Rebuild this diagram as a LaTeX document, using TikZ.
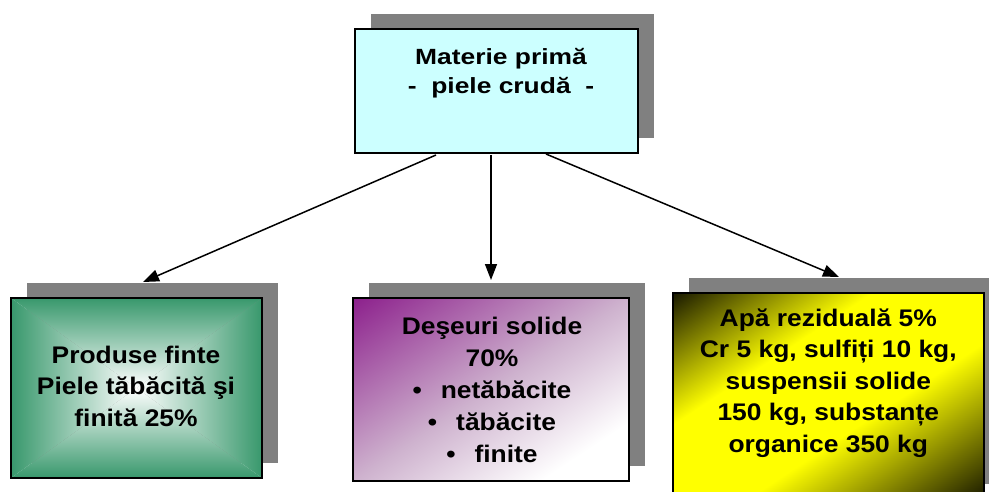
\documentclass[tikz,border=0pt]{standalone}
\usepackage{fontspec}
\setmainfont{Liberation Sans}
\newfontfamily\headfont[FakeStretch=1.2]{Liberation Sans}
\newfontfamily\bodyfont[FakeStretch=1.1]{Liberation Sans}
\usetikzlibrary{arrows.meta}

\definecolor{shadowgray}{RGB}{128,128,128}
\definecolor{paleCyan}{RGB}{204,255,255}
\definecolor{seaGreen}{RGB}{56,152,108}
\definecolor{deepPurple}{RGB}{140,32,140}
\definecolor{midLilac}{RGB}{206,178,206}
\definecolor{oliveBlack}{RGB}{24,24,0}

% corner-to-corner fades: 25bp is the top-left corner, 75bp the bottom-right one
\pgfdeclarehorizontalshading{purplefade}{100bp}{color(0bp)=(deepPurple); color(25bp)=(deepPurple); color(50bp)=(midLilac); color(67bp)=(white); color(100bp)=(white)}
\pgfdeclarehorizontalshading{yellowband}{100bp}{color(0bp)=(oliveBlack); color(25bp)=(oliveBlack); color(41bp)=(yellow); color(56bp)=(yellow); color(75bp)=(oliveBlack); color(100bp)=(oliveBlack)}

\tikzset{
  shadowbox/.style={rectangle, fill=shadowgray, draw=none, inner sep=0pt, outer sep=0pt},
  panel/.style={rectangle, draw=black, line width=1.5pt, inner sep=0pt, outer sep=0pt},
  frame/.style={draw=black, line width=1.5pt},
  headtext/.style={inner sep=0pt, align=center, font=\headfont\bfseries\fontsize{22}{29}\selectfont},
  bodytext/.style={inner sep=0pt, align=center, font=\bodyfont\bfseries\fontsize{24}{31.5}\selectfont},
  flow/.style={line width=1.5pt, -{Triangle[length=16pt,width=12pt]}},
  % rectangular glow: green rim fading to white in the middle
  greenglow/.style={path picture={
    \coordinate (gc) at (path picture bounding box.center);
    \shade[top color=seaGreen, bottom color=white]
      (path picture bounding box.north west) -- (path picture bounding box.north east) -- (gc) -- cycle;
    \shade[bottom color=seaGreen, top color=white]
      (path picture bounding box.south west) -- (path picture bounding box.south east) -- (gc) -- cycle;
    \shade[left color=seaGreen, right color=white]
      (path picture bounding box.north west) -- (path picture bounding box.south west) -- (gc) -- cycle;
    \shade[right color=seaGreen, left color=white]
      (path picture bounding box.north east) -- (path picture bounding box.south east) -- (gc) -- cycle;
  }}
}

\begin{document}
\begin{tikzpicture}[x=1pt, y=-1pt]
\useasboundingbox (0,0) rectangle (989,492);
\clip (0,0) rectangle (989,492);

% drop shadows
\node[shadowbox, minimum width=283pt, minimum height=124pt] (shT) at (512.5,76) {};
\node[shadowbox, minimum width=251pt, minimum height=180pt] (shL) at (152.5,373) {};
\node[shadowbox, minimum width=276pt, minimum height=183pt] (shM) at (507,374.5) {};
\node[shadowbox, minimum width=311pt, minimum height=206pt] (shR) at (844.5,381) {};

% boxes
\node[panel, fill=paleCyan, minimum width=283pt, minimum height=124pt] (top) at (496.5,91) {};
\node[panel, greenglow, minimum width=251pt, minimum height=180pt] (prod) at (136.5,388) {};
\node[rectangle, inner sep=0pt, outer sep=0pt, minimum width=276pt, minimum height=183pt] (waste) at (491,389.5) {};
\node[rectangle, inner sep=0pt, outer sep=0pt, minimum width=311pt, minimum height=206pt] (water) at (828.5,396) {};

% diagonal fades, stretched with each box (local x runs from the top-left to the bottom-right corner)
\begin{scope}
  \clip (waste.north west) rectangle (waste.south east);
  \begin{scope}[transform canvas={cm={2.76,-1.83,2.76,1.83,(215pt,-389.5pt)}}]
    \shade[shading=purplefade] (0pt,-20pt) rectangle (100pt,120pt);
  \end{scope}
\end{scope}
\begin{scope}
  \clip (water.north west) rectangle (water.south east);
  \begin{scope}[transform canvas={cm={3.11,-2.06,3.11,2.06,(517.5pt,-396pt)}}]
    \shade[shading=yellowband] (0pt,-20pt) rectangle (100pt,120pt);
  \end{scope}
\end{scope}
\draw[frame] (waste.north west) rectangle (waste.south east);
\draw[frame] (water.north west) rectangle (water.south east);

% labels
\node[headtext] (topT) at (501,73.5) {Materie primă\\-\ \ piele crudă\ \ -};
\node[bodytext] (prodT) at (136,386.3) {Produse finte\\Piele tăbăcită şi\\finită 25\%};
\node[bodytext, font=\bodyfont\bfseries\fontsize{24}{32}\selectfont] (wasteT) at (492,389.5)
  {Deşeuri solide\\70\%\\•\hspace{19pt}netăbăcite\\•\hspace{19pt}tăbăcite\\•\hspace{19pt}finite};
\node[bodytext] (waterT) at (828.3,383.2)
  {Apă reziduală 5\%\\Cr 5 kg, sulfiți 10 kg,\\suspensii solide\\150 kg, substanțe\\organice 350 kg};

% flows
\draw[flow] ([xshift=-60.5pt,yshift=-2pt]top.south) -- ([xshift=-9.5pt,yshift=1pt]shL.north);
\draw[flow] ([xshift=-5.5pt,yshift=-2pt]top.south) -- ([xshift=-16pt,yshift=3pt]shM.north);
\draw[flow] ([xshift=49.5pt,yshift=-1pt]top.south) -- ([xshift=-5.5pt,yshift=1pt]shR.north);
\end{tikzpicture}
\end{document}
